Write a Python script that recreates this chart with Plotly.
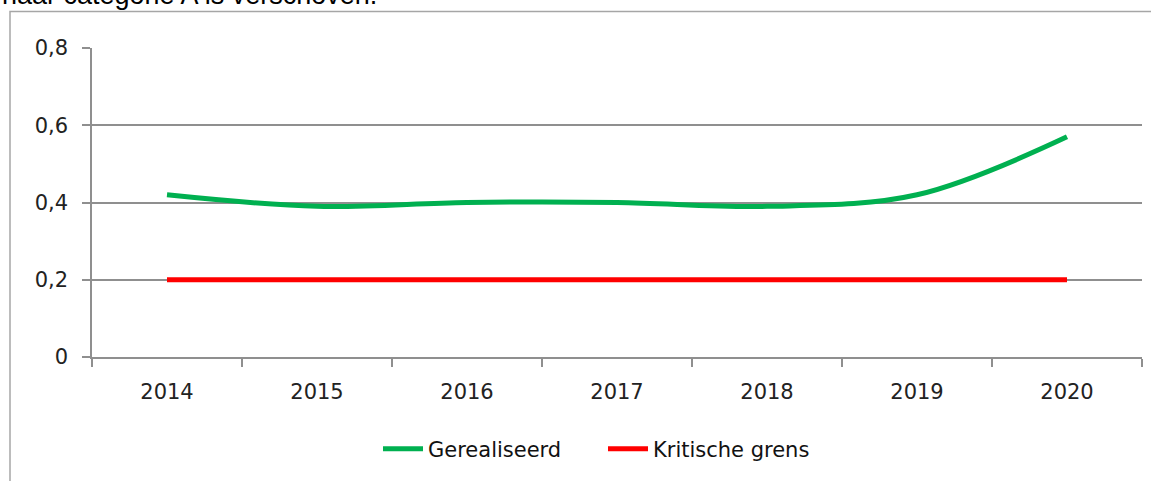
import plotly.graph_objects as go

years = ["2014", "2015", "2016", "2017", "2018", "2019", "2020"]
gerealiseerd = [0.42, 0.39, 0.40, 0.40, 0.39, 0.42, 0.57]
kritische_grens = [0.2, 0.2, 0.2, 0.2, 0.2, 0.2, 0.2]
y_ticks = [0, 0.2, 0.4, 0.6, 0.8]
y_tick_labels = ["0", "0,2", "0,4", "0,6", "0,8"]

W, H = 1151, 481
ML, MR, MT, MB = 92, 9, 48, 124
PW = W - ML - MR
PH = H - MT - MB

def px_x(p):
    return (p - ML) / PW

def px_y(p):
    return (H - MB - p) / PH

fig = go.Figure()
fig.add_trace(go.Scatter(
    x=years, y=gerealiseerd, name="Gerealiseerd", mode="lines",
    line=dict(color="#00B050", width=5, shape="spline", smoothing=1.0),
))
fig.add_trace(go.Scatter(
    x=years, y=kritische_grens, name="Kritische grens", mode="lines",
    line=dict(color="#FF0000", width=5),
))

axis_grey = "#8f8f8f"
fig.update_layout(
    width=W, height=H,
    margin=dict(l=ML, r=MR, t=MT, b=MB),
    paper_bgcolor="white", plot_bgcolor="white",
    separators=",.",
    showlegend=True,
    legend=dict(
        orientation="h", x=px_x(378), xanchor="left", y=px_y(449), yanchor="middle",
        font=dict(family="DejaVu Sans", size=21, color="#111111"),
        itemwidth=40, tracegroupgap=0, entrywidth=170,
    ),
    xaxis=dict(
        type="category", tickson="boundaries", showgrid=False,
        showline=True, linecolor=axis_grey, linewidth=1.5,
        ticks="outside", ticklen=8, tickcolor=axis_grey, tickwidth=1.5,
        tickfont=dict(family="DejaVu Sans", size=21, color="#222222"),
        ticklabelstandoff=15,
        range=[-0.5, 6.5], fixedrange=True,
    ),
    yaxis=dict(
        range=[0, 0.8], tickvals=y_ticks, ticktext=y_tick_labels,
        showgrid=True, gridcolor=axis_grey, gridwidth=1.5,
        showline=True, linecolor=axis_grey, linewidth=1.5,
        zeroline=False, fixedrange=True,
        ticks="outside", ticklen=8, tickcolor=axis_grey, tickwidth=1.5,
        tickfont=dict(family="DejaVu Sans", size=21, color="#222222"),
        ticklabelstandoff=10,
    ),
    shapes=[dict(
        type="rect", xref="paper", yref="paper",
        x0=px_x(10), x1=px_x(1160), y0=px_y(490), y1=px_y(11.5),
        line=dict(color="#a6a6a6", width=1.5), fillcolor="rgba(0,0,0,0)",
        layer="below",
    )],
    annotations=[dict(
        text="naar categorie A is verschoven.", showarrow=False,
        xref="paper", yref="paper", x=px_x(0), xanchor="left",
        y=px_y(12), yanchor="bottom",
        font=dict(family="Liberation Sans", size=27, color="#000000"),
    )],
)

fig.write_html(
    "out.html",
    config={"displayModeBar": False},
    post_script="document.body.style.margin='0';document.body.style.overflow='hidden';",
)
